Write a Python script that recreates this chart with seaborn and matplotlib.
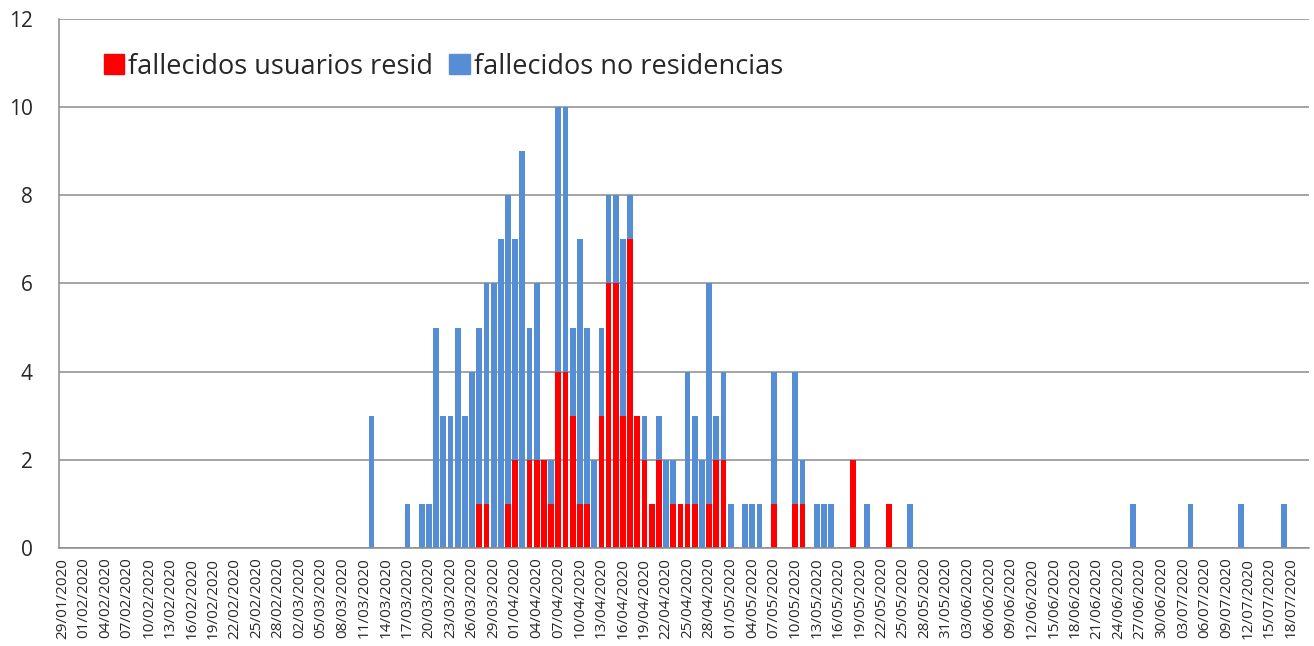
import pandas as pd
import matplotlib.pyplot as plt
import matplotlib.patches as mpatches
import seaborn as sns
import numpy as np

sns.set_style('white')
plt.rcParams['font.family'] = ['Open Sans', 'DejaVu Sans']

# dias con algun fallecido (el resto de dias = 0)
fechas = ['12/03', '17/03', '19/03', '20/03', '21/03', '22/03', '23/03', '24/03', '25/03', '26/03',
          '27/03', '28/03', '29/03', '30/03', '31/03', '01/04', '02/04', '03/04', '04/04', '05/04',
          '06/04', '07/04', '08/04', '09/04', '10/04', '11/04', '12/04', '13/04', '14/04', '15/04',
          '16/04', '17/04', '18/04', '19/04', '20/04', '21/04', '22/04', '23/04', '24/04', '25/04',
          '26/04', '27/04', '28/04', '29/04', '30/04', '01/05', '03/05', '04/05', '05/05', '07/05',
          '10/05', '11/05', '13/05', '14/05', '15/05', '18/05', '20/05', '23/05', '26/05', '26/06',
          '04/07', '11/07', '17/07']
residencias = [0, 0, 0, 0, 0, 0, 0, 0, 0, 0,
               1, 1, 0, 0, 1, 2, 0, 2, 2, 2,
               1, 4, 4, 3, 1, 1, 0, 3, 6, 6,
               3, 7, 3, 2, 1, 2, 0, 1, 1, 1,
               1, 0, 1, 2, 2, 0, 0, 0, 0, 1,
               1, 1, 0, 0, 0, 2, 0, 1, 0, 0,
               0, 0, 0]
no_residencias = [3, 1, 1, 1, 5, 3, 3, 5, 3, 4,
                  4, 5, 6, 7, 7, 5, 9, 3, 4, 0,
                  1, 6, 6, 2, 6, 4, 2, 2, 2, 2,
                  4, 1, 0, 1, 0, 1, 2, 1, 0, 3,
                  2, 2, 5, 1, 2, 1, 1, 1, 1, 3,
                  3, 1, 1, 1, 1, 0, 1, 0, 1, 1,
                  1, 1, 1]

dias = pd.date_range('2020-01-29', '2020-07-20')
etiquetas = list(dias.strftime('%d/%m/%Y'))
n = len(etiquetas)

df = pd.DataFrame({'fecha': [f + '/2020' for f in fechas],
                   'resid': residencias, 'no_resid': no_residencias})
full = pd.DataFrame({'fecha': etiquetas}).merge(df, on='fecha', how='left').fillna(0)
full['total'] = full['resid'] + full['no_resid']

rojo = '#FF0000'
azul = '#558ED5'
gris = '#8C8C8C'

fig = plt.figure(figsize=(13.14, 6.46), dpi=100)
ax = fig.add_axes([0.0449, 0.1517, 0.9513, 0.8189])

sns.barplot(data=full, x='fecha', y='total', color=azul, saturation=1, width=0.8,
            errorbar=None, linewidth=0, ax=ax)
sns.barplot(data=full, x='fecha', y='resid', color=rojo, saturation=1, width=0.8,
            errorbar=None, linewidth=0, ax=ax)

ax.set_ylim(0, 12)
ax.set_yticks(np.arange(0, 13, 2))
ax.yaxis.grid(True, color=gris, linewidth=1.1)
ax.set_axisbelow(True)
ax.tick_params(axis='y', labelsize=15, length=5, color=gris, width=1, pad=14)

ax.set_xlim(-0.5, n - 0.5)
ax.set_xticks(np.arange(-0.5, n, 1), labels=[])
ax.set_xticks(np.arange(0, n, 3), labels=etiquetas[::3], minor=True)
ax.tick_params(axis='x', which='major', length=4, color=gris, width=1)
ax.tick_params(axis='x', which='minor', length=0, labelsize=11, rotation=90, pad=7)

ax.set_xlabel('')
ax.set_ylabel('')
for s in ['top', 'right']:
    ax.spines[s].set_visible(False)
for s in ['left', 'bottom']:
    ax.spines[s].set_color(gris)
    ax.spines[s].set_linewidth(1.1)

handles = [mpatches.Patch(color=rojo, label='fallecidos usuarios resid'),
           mpatches.Patch(color=azul, label='fallecidos no residencias')]
ax.legend(handles=handles, loc='center left', bbox_to_anchor=(0.027, 0.91), ncol=2,
          frameon=False, fontsize=19.5, handlelength=0.75, handleheight=0.75,
          handletextpad=0.15, columnspacing=0.6, borderaxespad=0)

plt.savefig('out.png', dpi=100)
